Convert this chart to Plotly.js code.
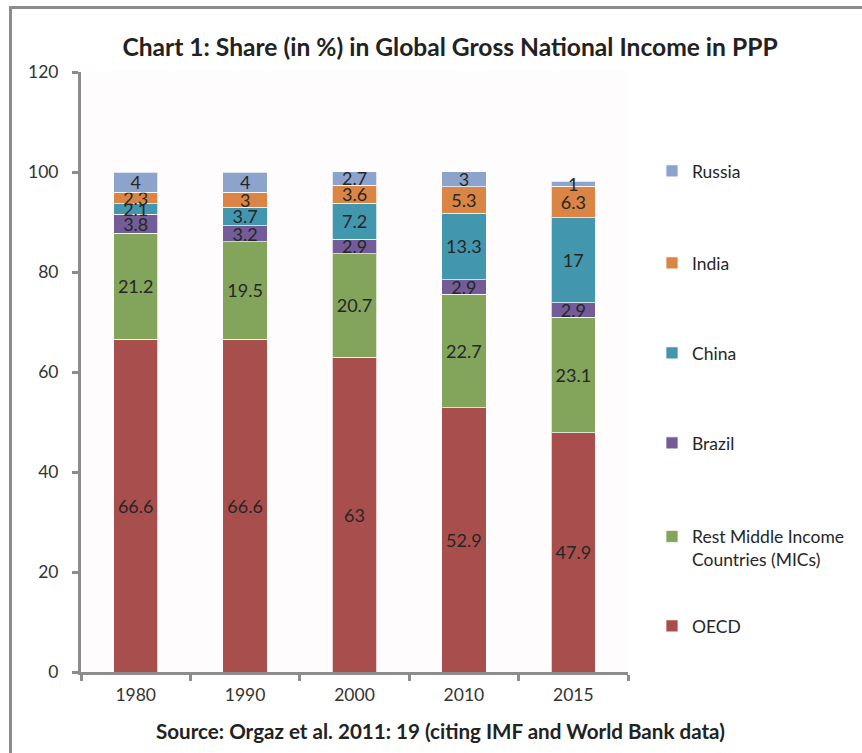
<!DOCTYPE html>
<html>
<head>
<meta charset="utf-8">
<script src="https://cdn.plot.ly/plotly-3.0.1.min.js"></script>
<style>
  html, body { margin: 0; padding: 0; background: #fff; }
  #frame { position: absolute; left: 9px; top: 6px; width: 900px; height: 800px;
           border-left: 3px solid #8c8c8c; border-top: 3px solid #8c8c8c; }
  #chart { position: absolute; left: 0; top: 0; width: 862px; height: 753px; }
</style>
</head>
<body>
<div id="frame"></div>
<div id="chart"></div>
<script>
const years = ['1980', '1990', '2000', '2010', '2015'];
const oecd   = [66.6, 66.6, 63, 52.9, 47.9];
const restMIC = [21.2, 19.5, 20.7, 22.7, 23.1];
const brazil = [3.8, 3.2, 2.9, 2.9, 2.9];
const china  = [2.1, 3.7, 7.2, 13.3, 17];
const india  = [2.3, 3, 3.6, 5.3, 6.3];
const russia = [4, 4, 2.7, 3, 1];

const seriesNames = ['OECD', 'Rest Middle Income<br>Countries (MICs)', 'Brazil', 'China', 'India', 'Russia'];
const seriesValues = [oecd, restMIC, brazil, china, india, russia];
const seriesColors = ['#A84F4E', '#83A45B', '#735C97', '#4297AE', '#DA8445', '#8CA4CC'];
// legend item centre heights (px from top of page)
const legendCenters = [626, 548, 443, 353, 263, 171];

const FONT = 'Lato, "Open Sans", sans-serif';
const PLOT_TOP = 72, PLOT_H = 600;

const legendKeys = ['legend', 'legend2', 'legend3', 'legend4', 'legend5', 'legend6'];

const traces = seriesNames.map((name, i) => ({
  type: 'bar',
  name: name,
  x: years,
  y: seriesValues[i],
  text: seriesValues[i].map(v => String(v)),
  textposition: 'inside',
  insidetextanchor: 'middle',
  textangle: 0,
  constraintext: 'none',
  cliponaxis: false,
  textfont: { family: FONT, size: 18, color: '#262626' },
  marker: { color: seriesColors[i], line: { color: 'rgba(255,255,255,0.7)', width: 1 } },
  legend: legendKeys[i],
  hoverinfo: 'skip'
}));

const layout = {
  width: 862, height: 753,
  barmode: 'stack',
  bargap: 0.595,
  paper_bgcolor: 'rgba(0,0,0,0)',
  plot_bgcolor: '#fefcfc',
  margin: { l: 81, r: 234, t: PLOT_TOP, b: 81 },
  font: { family: FONT, size: 17, color: '#333' },
  title: {
    text: '<b>Chart 1: Share (in %) in Global Gross National Income in PPP</b>',
    font: { family: FONT, size: 24.6, color: '#222' },
    x: 450 / 862, xref: 'container', xanchor: 'center',
    y: 1 - 47 / 753, yref: 'container', yanchor: 'middle'
  },
  xaxis: {
    type: 'category',
    showline: true, linecolor: '#8c8c8c', linewidth: 3,
    ticks: 'outside', tickson: 'boundaries', ticklen: 6, tickwidth: 3, tickcolor: '#8c8c8c',
    tickfont: { family: FONT, size: 17.5, color: '#333' },
    ticklabelstandoff: 5,
    showgrid: false, zeroline: false, fixedrange: true
  },
  yaxis: {
    range: [0, 120], dtick: 20, tick0: 0,
    showline: true, linecolor: '#8c8c8c', linewidth: 3,
    ticks: 'outside', ticklen: 6, tickwidth: 3, tickcolor: '#8c8c8c',
    tickfont: { family: FONT, size: 17.5, color: '#333' },
    ticklabelstandoff: 10,
    showgrid: false, zeroline: false, fixedrange: true
  },
  showlegend: true,
  annotations: [{
    text: '<b>Source: Orgaz et al. 2011: 19 (citing IMF and World Bank data)</b>',
    xref: 'paper', yref: 'paper',
    x: (440 - 81) / 547, y: -(731 - 672) / 600,
    xanchor: 'center', yanchor: 'middle',
    showarrow: false,
    font: { family: FONT, size: 20.6, color: '#222' }
  }]
};

legendKeys.forEach((k, i) => {
  layout[k] = {
    x: (652 - 81) / 547, xanchor: 'left',
    y: (PLOT_TOP + PLOT_H - legendCenters[i]) / PLOT_H, yanchor: 'middle',
    valign: 'top',
    font: { family: FONT, size: 17.5, color: '#262626' },
    bgcolor: 'rgba(0,0,0,0)'
  };
});

Plotly.newPlot('chart', traces, layout, { displayModeBar: false, staticPlot: true });
</script>
</body>
</html>
